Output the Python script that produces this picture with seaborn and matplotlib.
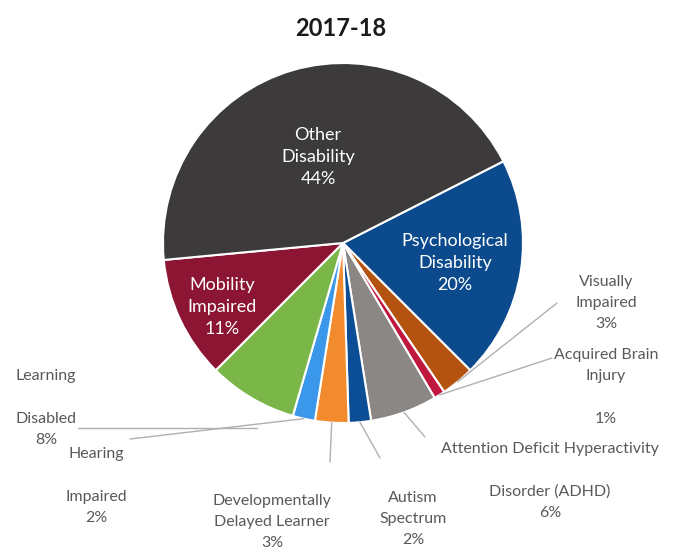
import numpy as np
import matplotlib
matplotlib.use("Agg")
import matplotlib.pyplot as plt
import seaborn as sns

# data, clockwise from the Other / Psychological boundary
categories = ["Psychological Disability", "Visually Impaired", "Acquired Brain Injury",
              "Attention Deficit Hyperactivity Disorder (ADHD)", "Autism Spectrum",
              "Developmentally Delayed Learner", "Hearing Impaired", "Learning Disabled",
              "Mobility Impaired", "Other Disability"]
shares = [20, 3, 1, 6, 2, 3, 2, 8, 11, 44]
pct_labels = ["20%", "3%", "1%", "6%", "2%", "3%", "2%", "8%", "11%", "44%"]
colors = ["#0b4a8d", "#b4520f", "#c0173f", "#8a8785", "#0c4e96",
          "#f28a2e", "#3a97ea", "#7ab648", "#8b1533", "#3c3a3b"]
title = "2017-18"

sns.set_theme(style="white")
plt.rcParams["font.family"] = ["Lato", "DejaVu Sans"]

W, H = 674, 556
fig = plt.figure(figsize=(W / 100, H / 100), dpi=100)
ax = fig.add_axes([0, 0, 1, 1])

cx, cy, R = 343, 243, 180  # pie centre / radius in pixels (y from top)

def P(x, y):
    # pixel (from top-left) -> axes data coords
    return x, H - y

wedges, _ = ax.pie(shares, colors=colors, startangle=27, counterclock=False,
                   center=P(cx, cy), radius=R,
                   wedgeprops=dict(edgecolor="white", linewidth=1.5))
ax.set_xlim(0, W)
ax.set_ylim(0, H)
ax.set_aspect("equal")
ax.axis("off")

ax.text(*P(341, 28), title, ha="center", va="center", fontsize=17,
        fontweight="bold", color="#1a1a1a")

def edge_point(i, r=1.0):
    w = wedges[i]
    a = np.deg2rad((w.theta1 + w.theta2) / 2)
    x0, y0 = w.center
    return x0 + r * R * np.cos(a), y0 + r * R * np.sin(a)

# labels inside the big wedges
inside = {
    9: ("Other\nDisability\n" + pct_labels[9], (318, 157)),
    0: ("Psychological\nDisability\n" + pct_labels[0], (455, 263)),
    8: ("Mobility\nImpaired\n" + pct_labels[8], (222, 307)),
}
for i, (txt, pos) in inside.items():
    ax.text(*P(*pos), txt, ha="center", va="center", fontsize=13,
            color="white", linespacing=1.45)

# outside labels with leader lines (None = line not tied to the wedge edge)
grey = "#595959"
line_c = "#b0b0b0"
outside = {
    1: ("Visually\nImpaired\n" + pct_labels[1], (606, 303), [(557, 303)], True),
    2: ("Acquired Brain\nInjury\n\n" + pct_labels[2], (606, 387), [(552, 358)], True),
    3: ("Attention Deficit Hyperactivity\n\nDisorder (ADHD)\n" + pct_labels[3], (550, 481), [(425, 437)], True),
    4: ("Autism\nSpectrum\n" + pct_labels[4], (413, 519), [(380, 458)], True),
    5: ("Developmentally\nDelayed Learner\n" + pct_labels[5], (272, 522), [(330, 462)], True),
    6: ("Hearing\n\nImpaired\n" + pct_labels[6], (96, 486), [(130, 439)], True),
    7: ("Learning\n\nDisabled\n" + pct_labels[7], (46, 408), [(257, 428), (78, 428)], False),
}
for i, (txt, pos, pts, tied) in outside.items():
    xs = [P(*p)[0] for p in pts]
    ys = [P(*p)[1] for p in pts]
    if tied:
        ex, ey = edge_point(i, 1.0)
        xs = [ex] + xs
        ys = [ey] + ys
    ax.plot(xs, ys, color=line_c, linewidth=1.0)
    ax.text(*P(*pos), txt, ha="center", va="center", fontsize=11.5,
            color=grey, linespacing=1.65)

fig.savefig("out.png", dpi=100, facecolor="white")
